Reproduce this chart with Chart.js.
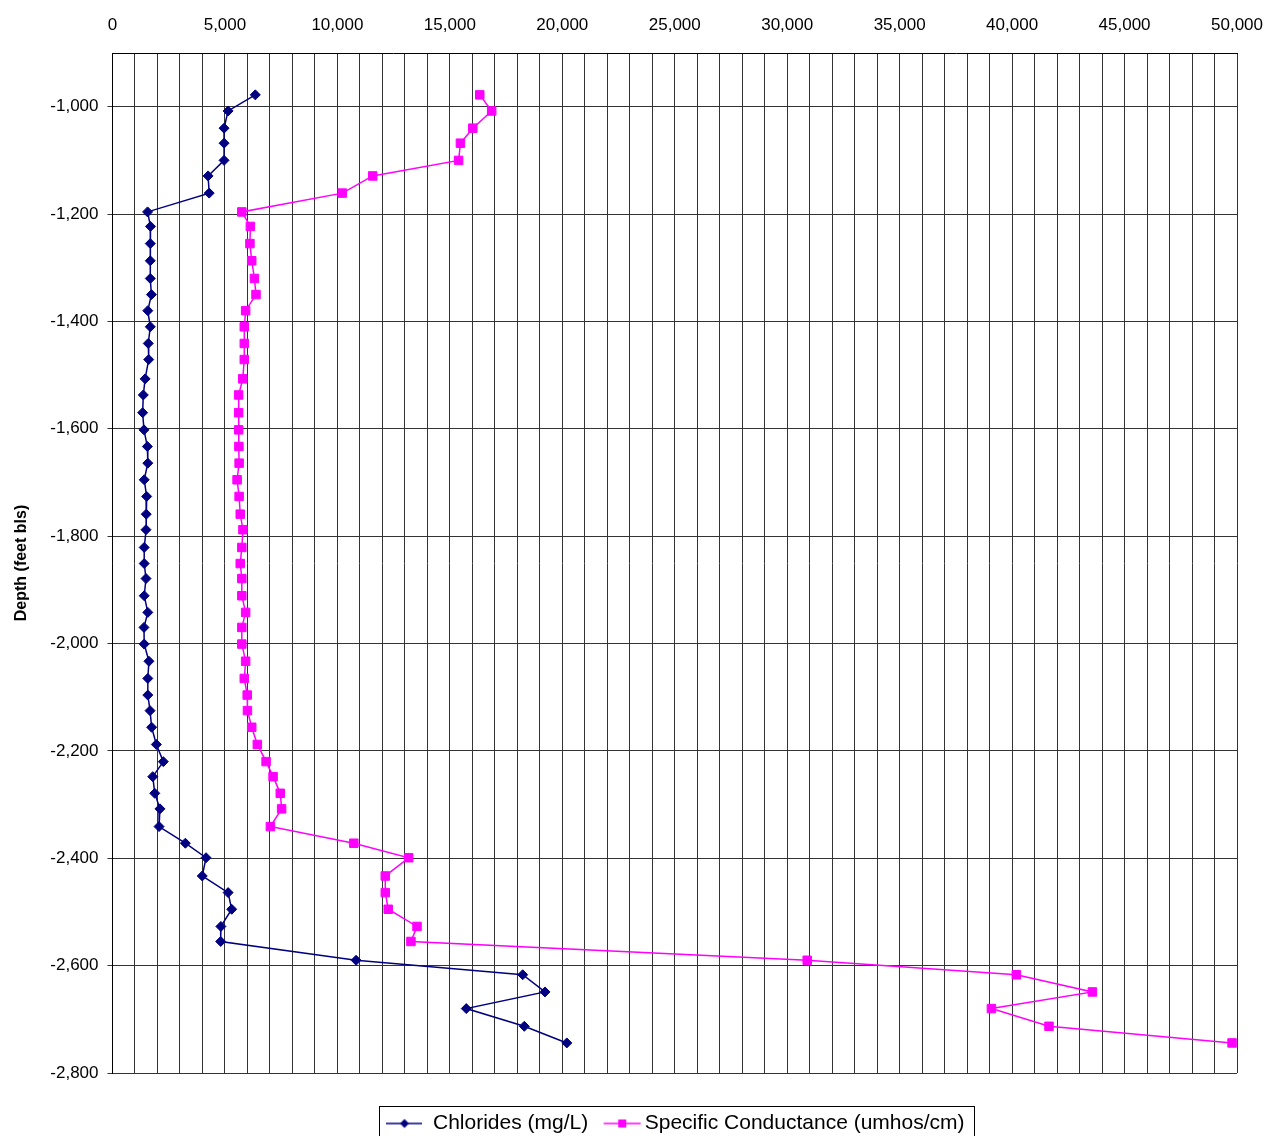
<!DOCTYPE html>
<html>
<head>
<meta charset="utf-8">
<script src="https://cdn.jsdelivr.net/npm/chart.js@4.4.0/dist/chart.umd.min.js"></script>
<style>
  html, body { margin: 0; padding: 0; background: #fff; overflow: hidden; }
  #wrap { width: 1268px; height: 1144px; position: relative; }
</style>
</head>
<body>
<div id="wrap"><canvas id="depth-chart"></canvas></div>
<script>
// depth of each sample (feet below land surface)
const depths = [-978, -1008, -1040, -1068, -1100, -1129, -1161, -1196, -1223, -1255,
  -1287, -1320, -1350, -1380, -1410, -1441, -1471, -1507, -1537, -1570,
  -1602, -1633, -1664, -1695, -1726, -1759, -1788, -1821, -1851, -1879,
  -1911, -1942, -1970, -2001, -2033, -2065, -2096, -2125, -2156, -2188,
  -2220, -2248, -2279, -2308, -2341, -2372, -2399, -2433, -2464, -2495,
  -2527, -2555, -2590, -2617, -2649, -2680, -2713, -2744];

const chlorides = [6350, 5140, 4960, 4960, 4960, 4250, 4300, 1560, 1690, 1680,
  1680, 1680, 1730, 1570, 1680, 1590, 1610, 1450, 1370, 1340,
  1400, 1550, 1570, 1410, 1520, 1500, 1490, 1410, 1410, 1490,
  1410, 1570, 1400, 1410, 1620, 1570, 1570, 1670, 1740, 1950,
  2260, 1790, 1880, 2110, 2070, 3240, 4160, 3990, 5140, 5300,
  4820, 4810, 10830, 18240, 19230, 15730, 18310, 20200];

const conductance = [16330, 16860, 16020, 15470, 15390, 11570, 10220, 5750, 6130, 6110,
  6190, 6310, 6380, 5920, 5860, 5860, 5860, 5790, 5610, 5610,
  5610, 5620, 5630, 5540, 5630, 5680, 5800, 5750, 5680, 5750,
  5750, 5920, 5750, 5750, 5920, 5860, 5990, 6000, 6190, 6440,
  6830, 7140, 7460, 7520, 7020, 10730, 13170, 12130, 12130, 12260,
  13540, 13270, 30890, 40190, 43570, 39080, 41640, 49780];

const depthTicks = [-2800, -2600, -2400, -2200, -2000, -1800, -1600, -1400, -1200, -1000];
const seriesNames = ['Chlorides (mg/L)', 'Specific Conductance (umhos/cm)'];
const seriesColors = ['#000080', '#FF00FF'];

Chart.defaults.font.family = "'Liberation Sans', Arial, sans-serif";
Chart.defaults.color = '#000';

// little line-and-marker pictures for the legend
function legendMarker(color, diamond, w, x0, x1) {
  const c = document.createElement('canvas');
  c.width = w;
  c.height = 12;
  const g = c.getContext('2d');
  g.strokeStyle = color;
  g.lineWidth = 1.5;
  g.beginPath();
  g.moveTo(x0, 6);
  g.lineTo(x1, 6);
  g.stroke();
  g.fillStyle = color;
  const m = (x0 + x1) / 2;
  if (diamond) {
    g.beginPath();
    g.moveTo(m, 1.5);
    g.lineTo(m + 4.5, 6);
    g.lineTo(m, 10.5);
    g.lineTo(m - 4.5, 6);
    g.closePath();
    g.fill();
  } else {
    g.fillRect(m - 4, 2, 8, 8);
  }
  return c;
}
const markers = [
  legendMarker(seriesColors[0], true, 36, 0, 36),
  legendMarker(seriesColors[1], false, 50, 12.5, 49.5)
];

// excel style frame round the legend, and nudge legend to the right
const legendFrame = {
  id: 'legendFrame',
  afterLayout(chart) {
    chart.legend.left += 57;
    chart.legend.right += 57;
  },
  afterDraw(chart) {
    const hb = chart.legend.legendHitBoxes;
    if (!hb || !hb.length) return;
    const l = Math.min(...hb.map(h => h.left));
    const r = Math.max(...hb.map(h => h.left + h.width));
    const t = Math.min(...hb.map(h => h.top));
    const ctx = chart.ctx;
    ctx.save();
    ctx.strokeStyle = '#000';
    ctx.lineWidth = 1;
    ctx.strokeRect(Math.round(l - 7) + 0.5, Math.round(t - 7) + 0.5, Math.round(r - l + 17), 60);
    ctx.restore();
  }
};

const ctx = document.getElementById('depth-chart').getContext('2d');
new Chart(ctx, {
  type: 'scatter',
  data: {
    datasets: [{
      label: seriesNames[0],
      data: depths.map((d, i) => ({ x: chlorides[i], y: d })),
      showLine: true,
      borderColor: seriesColors[0],
      backgroundColor: seriesColors[0],
      borderWidth: 1.5,
      pointStyle: 'rectRot',
      pointRadius: 5,
      pointBorderWidth: 1
    }, {
      label: seriesNames[1],
      data: depths.map((d, i) => ({ x: conductance[i], y: d })),
      showLine: true,
      borderColor: seriesColors[1],
      backgroundColor: seriesColors[1],
      borderWidth: 1.5,
      pointStyle: 'rect',
      pointRadius: 6,
      pointBorderWidth: 1
    }]
  },
  options: {
    responsive: true,
    maintainAspectRatio: false,
    animation: false,
    layout: { padding: { left: 0, right: 31, top: 0, bottom: 0 } },
    plugins: {
      tooltip: { enabled: false },
      legend: {
        position: 'bottom',
        labels: {
          usePointStyle: true,
          pointStyleWidth: 36,
          boxHeight: 21,
          padding: 10,
          color: '#000',
          font: { size: 21 },
          generateLabels: chart => chart.data.datasets.map((ds, i) => ({
            text: ds.label,
            pointStyle: markers[i],
            fillStyle: ds.borderColor,
            strokeStyle: ds.borderColor,
            lineWidth: 0,
            hidden: false,
            datasetIndex: i,
            fontColor: '#000'
          }))
        }
      }
    },
    scales: {
      x: {
        type: 'linear',
        position: 'top',
        min: 0,
        max: 50000,
        afterFit: s => {
          s.height = 53;
          s.paddingLeft = 0;
          s.paddingRight = 0;
        },
        grid: { color: '#333', lineWidth: 1, drawTicks: false },
        border: { color: '#000', width: 1 },
        ticks: {
          stepSize: 1000,
          autoSkip: false,
          maxRotation: 0,
          padding: 17,
          font: { size: 17 },
          color: '#000',
          callback: v => (v % 5000 === 0 ? Number(v).toLocaleString('en-US') : '')
        }
      },
      pad: {
        type: 'linear',
        position: 'bottom',
        display: true,
        afterFit: s => { s.height = 30; },
        grid: { display: false, drawTicks: false },
        border: { display: false },
        ticks: { display: false }
      },
      y: {
        type: 'linear',
        min: -2800,
        max: -900,
        afterFit: s => { s.width = 112.5; },
        afterBuildTicks: s => { s.ticks = depthTicks.map(v => ({ value: v })); },
        grid: { color: '#333', lineWidth: 1, tickLength: 5 },
        border: { color: '#000', width: 1 },
        title: {
          display: true,
          text: 'Depth (feet bls)',
          font: { size: 16, weight: 'bold' },
          color: '#000',
          padding: { top: 12, bottom: 0 }
        },
        ticks: {
          autoSkip: false,
          padding: 9,
          font: { size: 17 },
          color: '#000',
          callback: v => Number(v).toLocaleString('en-US')
        }
      }
    }
  },
  plugins: [legendFrame]
});
</script>
</body>
</html>
